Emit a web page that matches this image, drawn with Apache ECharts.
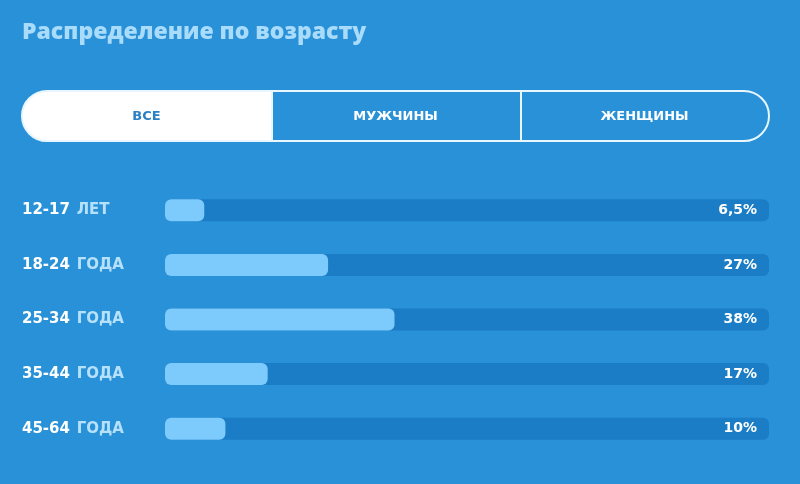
<!DOCTYPE html>
<html>
<head>
<meta charset="utf-8">
<script src="https://cdn.jsdelivr.net/npm/echarts@6/dist/echarts.min.js"></script>
<style>
html,body{margin:0;padding:0;background:#2891d7;}
#main{width:800px;height:484px;}
</style>
</head>
<body>
<div id="main"></div>
<script>
// данные
var ages = ['12-17', '18-24', '25-34', '35-44', '45-64'];
var units = ['ЛЕТ', 'ГОДА', 'ГОДА', 'ГОДА', 'ГОДА'];
var values = [6.5, 27, 38, 17, 10];
var tabs = ['ВСЕ', 'МУЖЧИНЫ', 'ЖЕНЩИНЫ'];
var title = 'Распределение по возрасту';

var font = '"Open Sans", "DejaVu Sans", sans-serif';
var wide = '"DejaVu Sans", sans-serif';
var myChart = echarts.init(document.getElementById('main'));

// вкладки
var tabW = (769 - 22) / tabs.length;
var graphics = [
	{type:'text', x:22, y:32, style:{text:title, fill:'#a9dbfb', font:'800 23px ' + font, verticalAlign:'middle'}},
	{type:'rect', shape:{x:22, y:91, width:250, height:50, r:[25,0,0,25]}, style:{fill:'#ffffff'}},
	{type:'rect', shape:{x:22, y:91, width:747, height:50, r:25}, style:{fill:'none', stroke:'#e8f6fe', lineWidth:2}},
	{type:'line', shape:{x1:272, y1:91, x2:272, y2:141}, style:{stroke:'#e8f6fe', lineWidth:2}},
	{type:'line', shape:{x1:521, y1:91, x2:521, y2:141}, style:{stroke:'#e8f6fe', lineWidth:2}}
];
for (var i = 0; i < tabs.length; i++) {
	graphics.push({
		type:'text', x:22 + tabW * (i + 0.5), y:117,
		style:{text:tabs[i], fill:i == 0 ? '#2a80c2' : '#ffffff', font:'bold 13px ' + wide, align:'center', verticalAlign:'middle'}
	});
}

var option = {
	backgroundColor:'#2891d7',
	animation:false,
	graphic:graphics,
	grid:{left:165, right:31, top:183, bottom:28},
	xAxis:{type:'value', min:0, max:100, show:false},
	yAxis:{
		type:'category', inverse:true, data:ages,
		axisLine:{show:false}, axisTick:{show:false},
		axisLabel:{
			align:'left', margin:143,
			formatter:function(v, idx){ return '{n|' + v + '}  {u|' + units[idx] + '}'; },
			rich:{
				n:{color:'#ffffff', fontFamily:wide, fontWeight:'bold', fontSize:15},
				u:{color:'#b6e1fc', fontFamily:wide, fontWeight:'bold', fontSize:15}
			}
		}
	},
	series:[{
		type:'bar', data:values, barWidth:22,
		itemStyle:{color:'#7dcafd', borderRadius:6},
		showBackground:true,
		backgroundStyle:{color:'#1a7dc5', borderRadius:6},
		z:3
	},{
		type:'bar', barGap:'-100%', barWidth:22, silent:true,
		data:values.map(function(){ return 100; }),
		itemStyle:{color:'transparent'},
		label:{
			show:true, position:'insideRight', distance:12,
			color:'#ffffff', fontFamily:wide, fontWeight:'bold', fontSize:14,
			formatter:function(p){ return String(values[p.dataIndex]).replace('.', ',') + '%'; }
		},
		z:4
	}]
};
myChart.setOption(option);
</script>
</body>
</html>
